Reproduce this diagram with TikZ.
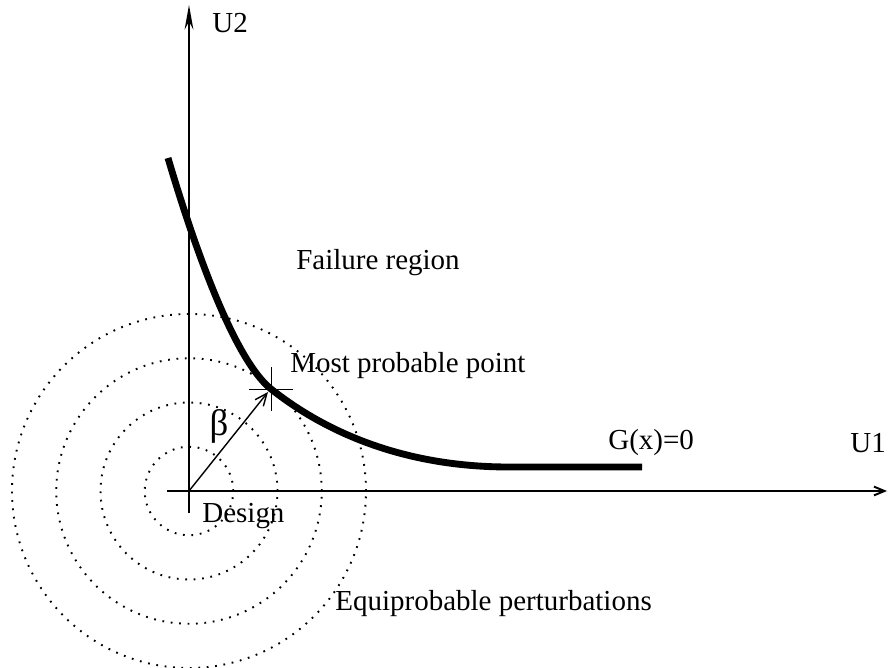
\documentclass[tikz,border=0pt]{standalone}
\usepackage{fontspec}
\setmainfont{Liberation Serif}
\usetikzlibrary{arrows.meta,positioning}

\begin{document}
\begin{tikzpicture}[
  axis/.style={line width=1.1pt},
  level/.style={line width=1.1pt,dash pattern=on 1pt off 3.8pt},
  limit/.style={line width=3.9pt},
  lbl/.style={font=\fontsize{16.5}{20}\selectfont,inner sep=0pt},
]
  \useasboundingbox (-3.78,-3.52) rectangle (13.98,9.82);

  \coordinate (O) at (0,0);
  \coordinate (xs) at (-0.44,0);
  \coordinate (xe) at (13.96,0);
  \coordinate (ys) at (0,-0.44);
  \coordinate (ye) at (0,9.72);
  \coordinate (top) at (-0.42,6.66);
  \coordinate (mpp) at (1.64,2.04);
  \coordinate (flat) at (6.4,0.48);
  \coordinate (gend) at (9.06,0.48);

  % equiprobable circles
  \foreach \r in {1,...,4}
    \draw[level] (O) circle ({0.885*\r});

  % axes
  \draw[axis,-{Straight Barb[length=6pt,width=5pt]}] (xs) -- (xe);
  \draw[axis,-{Stealth[length=14pt,width=5pt]}] (ys) -- (ye);

  % limit state
  \draw[limit] (top) .. controls (0.1,4.9) and (0.9,2.63) .. (mpp)
    .. controls (2.89,1.05) and (4.5,0.48) .. (flat) -- (gend);

  % most probable point
  \draw[line width=0.5pt] ([xshift=-0.44cm]mpp) -- ([xshift=0.44cm]mpp);
  \draw[line width=0.5pt] ([yshift=-0.44cm]mpp) -- ([yshift=0.44cm]mpp);
  \draw[line width=0.8pt,-{Straight Barb[length=7pt,width=6pt]}] (O) -- ([shift={(-0.06,-0.06)}]mpp);

  \node[lbl,anchor=west] (u2) at (0.46,9.36) {U2};
  \node[lbl,anchor=west] (u1) at (13.22,0.96) {U1};
  \node[lbl] (fail) at (3.78,4.56) {Failure region};
  \node[lbl,anchor=west] (mpplbl) at (2.02,2.5) {Most probable point};
  \node[lbl,anchor=west] (glbl) at (8.38,0.96) {G(x)=0};
  \node[lbl,anchor=west] (design) at (0.26,-0.5) {Design};
  \node[lbl,anchor=west] (equi) at (2.92,-2.26) {Equiprobable perturbations};
  \node[lbl,font=\fontsize{21}{24}\selectfont] (beta) at (0.6,1.3) {β};
\end{tikzpicture}
\end{document}
